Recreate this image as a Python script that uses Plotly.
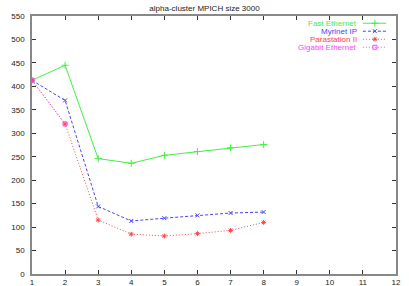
import plotly.graph_objects as go

nodes = [1, 2, 3, 4, 5, 6, 7, 8]
fast_ethernet = [413, 445, 246, 236, 253, 261, 269, 276]
myrinet_ip = [413, 370, 144, 113, 119, 125, 130, 132]
parastation = [413, 320, 115, 85, 81, 86, 93, 110]
gigabit_nodes = [1, 2]
gigabit_ethernet = [413, 320]

series = [
    ("Fast Ethernet", nodes, fast_ethernet, "#44ee44", "solid", "cross-thin", 5),
    ("Myrinet IP", nodes, myrinet_ip, "#4444ff", "3px,2px", "x-thin", 4),
    ("Parastation II", nodes, parastation, "#ff4444", "1px,2px", "asterisk-open", 4),
    ("Gigabit Ethernet", gigabit_nodes, gigabit_ethernet, "#ff44ff", "1px,2px", "square-open", 4),
]

FONT = "Liberation Sans, Arial, sans-serif"
fig = go.Figure()
for name, xs, ys, col, dash, sym, ms in series:
    fig.add_trace(go.Scatter(
        x=xs, y=ys, mode="lines+markers", name=name,
        line=dict(color=col, width=1, dash=dash),
        marker=dict(symbol=sym, size=ms, color=col, line=dict(color=col, width=1)),
        showlegend=False,
    ))

# custom legend (text right-aligned, sample on the right, gnuplot style)
leg_y = [0.972, 0.941, 0.910, 0.879]
for (name, xs, ys, col, dash, sym, ms), yy in zip(series, leg_y):
    fig.add_annotation(x=0.898, y=yy, xref="paper", yref="paper", text=name,
                       showarrow=False, xanchor="right", yanchor="middle",
                       font=dict(color=col, size=8, family=FONT))
    fig.add_trace(go.Scatter(
        x=[0.909, 0.973], y=[yy, yy], xaxis="x2", yaxis="y2",
        mode="lines", showlegend=False, hoverinfo="skip",
        line=dict(color=col, width=1, dash=dash),
    ))
    fig.add_trace(go.Scatter(
        x=[0.942], y=[yy], xaxis="x2", yaxis="y2",
        mode="markers", showlegend=False, hoverinfo="skip",
        marker=dict(symbol=sym, size=ms, color=col, line=dict(color=col, width=1)),
    ))

fig.update_layout(
    width=409, height=286,
    margin=dict(l=32, r=13, t=16, b=12),
    paper_bgcolor="white", plot_bgcolor="white",
    font=dict(family=FONT, size=8, color="#222222"),
    title=dict(text="alpha-cluster MPICH size 3000", x=0.5, xanchor="center",
               y=1 - 8 / 286, yanchor="middle", font=dict(size=8)),
    xaxis=dict(range=[1, 12], dtick=1, tick0=1, showgrid=False, zeroline=False,
               showline=True, linecolor="#888888", linewidth=1.5, mirror="allticks",
               ticks="inside", ticklen=4, tickcolor="#333333", tickwidth=1,
               tickfont=dict(size=8), ticklabelstandoff=0, automargin=False),
    yaxis=dict(range=[0, 550], dtick=50, showgrid=False, zeroline=False,
               showline=True, linecolor="#888888", linewidth=1.5, mirror="allticks",
               ticks="inside", ticklen=4, tickcolor="#333333", tickwidth=1,
               tickfont=dict(size=8), ticklabelstandoff=4, automargin=False),
    xaxis2=dict(overlaying="x", range=[0, 1], visible=False, domain=[0, 1]),
    yaxis2=dict(overlaying="y", range=[0, 1], visible=False, domain=[0, 1]),
)
fig.write_html("out.html", config={"displayModeBar": False},
               post_script="document.body.style.margin='0';document.body.style.overflow='hidden';")
